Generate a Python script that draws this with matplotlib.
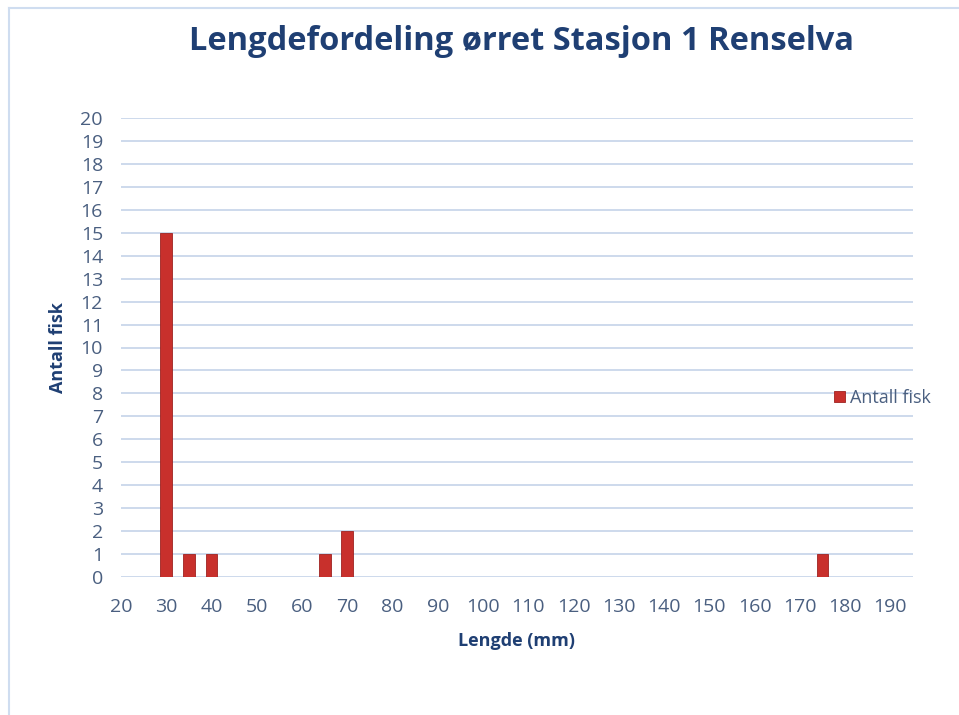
import matplotlib
matplotlib.use("Agg")
import matplotlib.pyplot as plt
from matplotlib.lines import Line2D

# length classes (mm) and number of fish
lengde = [30, 35, 40, 65, 70, 175]
antall = [15, 1, 1, 1, 2, 1]
xticks = list(range(20, 200, 10))
yticks = list(range(0, 21))

title_col = "#1F3F73"
tick_col = "#4A5F80"
bar_col = "#C8302C"

plt.rcParams["font.family"] = ["Open Sans", "DejaVu Sans"]

fig = plt.figure(figsize=(9.59, 7.15), dpi=100)
W, H = 959, 715
ax = fig.add_axes([121 / W, 1 - 577 / H, (913 - 121) / W, (577 - 118) / H])

ax.bar(lengde, antall, width=2.6, color=bar_col, edgecolor="#9E2320",
       linewidth=0.6, zorder=3, label="Antall fisk")

ax.set_xlim(20, 195)
ax.set_ylim(0, 20)
ax.set_xticks(xticks)
ax.set_yticks(yticks)
ax.yaxis.grid(True, color="#C9D7EA", linewidth=1.3, zorder=0)
ax.xaxis.grid(False)
for s in ax.spines.values():
    s.set_visible(False)
ax.tick_params(axis="both", length=0, labelsize=14, labelcolor=tick_col)
ax.tick_params(axis="x", pad=15)
ax.tick_params(axis="y", pad=13)

ax.set_xlabel("Lengde (mm)", fontsize=13, fontweight="bold", color=title_col, labelpad=12)
ax.set_ylabel("Antall fisk", fontsize=13, fontweight="bold", color=title_col, labelpad=10)

fig.text(0.544, 1 - 42 / H, "Lengdefordeling ørret Stasjon 1 Renselva",
         ha="center", va="center", fontsize=23.5, fontweight="bold", color=title_col)

fig.legend(loc="center left", bbox_to_anchor=(834 / W, 1 - 398 / H), frameon=False,
           fontsize=13, labelcolor=tick_col, handlelength=0.6, handleheight=0.6,
           handletextpad=0.3, borderpad=0, borderaxespad=0)

# light frame at left and top of the picture
fig.add_artist(Line2D([9 / W, 9 / W], [0, 1 - 8 / H], color="#CFDDF0", linewidth=1.5))
fig.add_artist(Line2D([9 / W, 1], [1 - 8 / H, 1 - 8 / H], color="#CFDDF0", linewidth=1.5))

fig.savefig("out.png", dpi=100, facecolor="white")
